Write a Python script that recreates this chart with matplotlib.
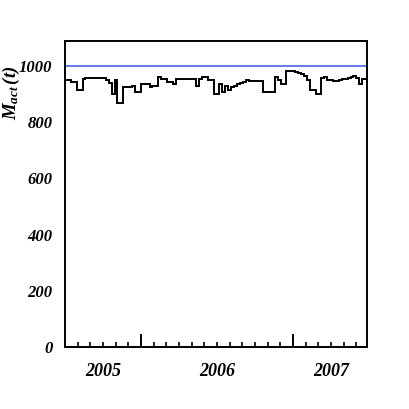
import numpy as np
import matplotlib
matplotlib.use("Agg")
import matplotlib.pyplot as plt

# weekly active mass (t)
mass = [951, 951, 943, 943, 914, 914, 955, 958, 958, 958, 958, 958, 958, 958,
        950, 940, 902, 950, 870, 870, 925, 925, 925, 930, 907, 907, 937, 937,
        937, 925, 930, 930, 963, 955, 955, 943, 943, 937, 955, 955, 955, 955,
        955, 955, 955, 930, 955, 960, 960, 950, 950, 902, 902, 937, 907, 930,
        914, 925, 930, 937, 940, 945, 950, 947, 946, 947, 946, 947, 907, 907,
        907, 907, 961, 951, 937, 937, 981, 981, 981, 979, 975, 972, 965, 950,
        914, 914, 902, 902, 958, 961, 951, 951, 947, 947, 951, 955, 955, 958,
        961, 965, 958, 937, 955, 955]
capacity = 1000
year_labels = ["2005", "2006", "2007"]
year_label_weeks = [13.0, 52.1, 91.5]
month_weeks = 52.14 / 12.0
n_months = 23
major_months = [6, 18]

plt.rcParams['mathtext.fontset'] = 'custom'
plt.rcParams['mathtext.rm'] = 'Liberation Serif:bold:italic'
plt.rcParams['mathtext.it'] = 'Liberation Serif:bold:italic'
plt.rcParams['mathtext.bf'] = 'Liberation Serif:bold:italic'

fig = plt.figure(figsize=(4.09, 4.09), dpi=100)
ax = fig.add_axes([0.159, 0.152, 0.738, 0.748])

edges = np.arange(len(mass) + 1)
ax.stairs(mass, edges, baseline=None, color='black', lw=1.4)
ax.axhline(capacity, color='#4a63e0', lw=1.2)

ax.set_xlim(0, len(mass) - 0.4)
ax.set_ylim(0, 1090)

tfont = dict(family='Liberation Serif', weight='bold', style='italic')

ax.set_yticks([0, 200, 400, 600, 800, 1000])
ax.set_yticklabels(['0', '200', '400', '600', '800', '1000'], fontdict=dict(size=12, **tfont))
ax.tick_params(axis='y', length=0, pad=9)

ax.set_xticks([m * month_weeks for m in major_months])
ax.set_xticks([m * month_weeks for m in range(1, n_months + 1) if m not in major_months], minor=True)
ax.tick_params(axis='x', which='major', direction='in', length=9.5, width=1.4, labelbottom=False)
ax.tick_params(axis='x', which='minor', direction='in', length=3.8, width=1.2)

sec = ax.secondary_xaxis('bottom')
sec.set_xticks(year_label_weeks)
sec.set_xticklabels(year_labels, fontdict=dict(size=13, **tfont))
sec.tick_params(length=0, pad=12)
sec.spines['bottom'].set_visible(False)

for s in ax.spines.values():
    s.set_linewidth(1.4)

ax.set_ylabel(r'$M_{act}\,(t)$', fontsize=13.5)
ax.yaxis.set_label_coords(-0.142, 0.83)

fig.savefig('out.png', dpi=100)
